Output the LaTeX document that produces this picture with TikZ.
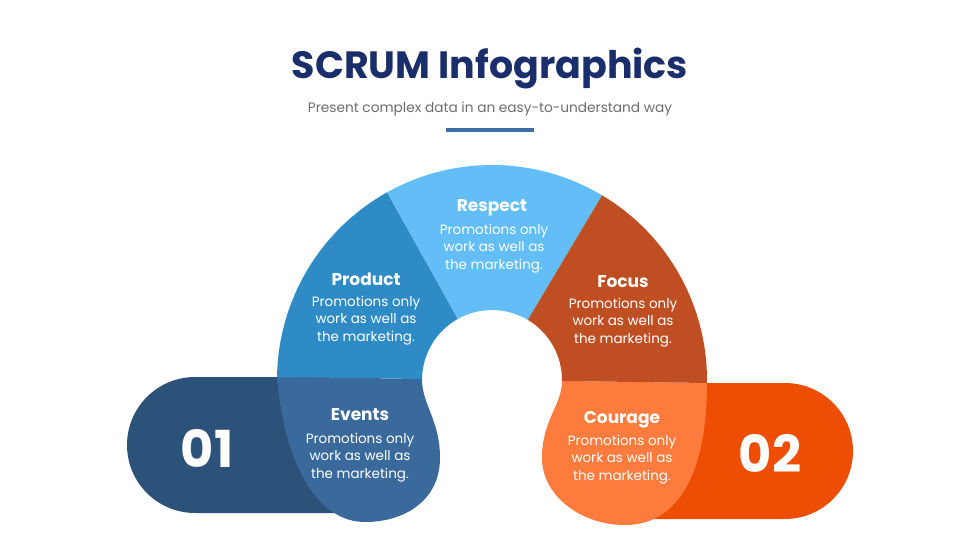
\documentclass[tikz,border=0pt]{standalone}
\usepackage{fontspec}
\setmainfont{Poppins}
\usetikzlibrary{calc}
\definecolor{titlec}{HTML}{1A2E6C}
\definecolor{subc}{HTML}{6D6D6D}
\definecolor{barc}{HTML}{3D6EA5}
\definecolor{pillA}{HTML}{2C5279}
\definecolor{eventsc}{HTML}{3A6A9C}
\definecolor{productc}{HTML}{2F8BC5}
\definecolor{respectc}{HTML}{63BEF7}
\definecolor{focusc}{HTML}{BF4F22}
\definecolor{couragec}{HTML}{FD7B3D}
\definecolor{pillB}{HTML}{EE4E04}
\begin{document}
\begin{tikzpicture}[x=1pt,y=-1pt,
  headtxt/.style={text=white,font=\bfseries\fontsize{17}{20}\selectfont,inner sep=0pt,text height=0.7em,text depth=0pt},
  bodytxt/.style={text=white,font=\fontsize{13.5}{17.5}\selectfont,align=center,inner sep=0pt},
  numtxt/.style={text=white,font=\bfseries\fontsize{51}{56}\selectfont,inner sep=0pt,anchor=base}]
\path[use as bounding box, fill=white] (0,0) rectangle (980,551);
% title
\node[anchor=base,text=titlec,font=\bfseries\fontsize{38}{42}\selectfont,inner sep=0pt] (title) at (490,78) {SCRUM Infographics};
\node[anchor=base,text=subc,font=\fontsize{13.7}{16}\selectfont,inner sep=0pt] (sub) at (490,112.5) {Present complex data in an easy-to-understand way};
\coordinate (barL) at (446,130);
\coordinate (barR) at (534,130);
\draw[barc,line width=4pt] (barL) -- (barR);
% geometry
\coordinate (C) at (492,380);
\coordinate (PL) at ($(C)+(180.8:215)$);
\coordinate (PI) at ($(C)+(180.8:70)$);
\coordinate (FO) at ($(C)+(360.8:215)$);
\coordinate (FI) at ($(C)+(360.8:70)$);
% pills
\fill[pillA] (380,377) -- (195,377) arc[start angle=270,end angle=90,radius=68] -- (380,513) -- cycle;
\fill[pillB] (610,383) -- (785,383) arc[start angle=270,end angle=450,radius=68] -- (610,519) -- cycle;
% blobs
\fill[eventsc] (PL) -- (PI) .. controls (422,405) and (440,420) .. (440,458) .. controls (440,500) and (405,522) .. (365,522) .. controls (320,522) and (285,470) .. (PL) -- cycle;
\fill[couragec] (FI) -- (FO) .. controls (707,470) and (680,525) .. (625,525) .. controls (580,525) and (542,495) .. (542,458) .. controls (542,420) and (562,405) .. (FI) -- cycle;
% arch sectors
\fill[productc] (PI) -- (PL) arc[start angle=180.8,end angle=240.8,radius=215] -- ($(C)+(240.8:70)$) arc[start angle=240.8,end angle=180.8,radius=70] -- cycle;
\fill[respectc] ($(C)+(240.8:70)$) -- ($(C)+(240.8:215)$) arc[start angle=240.8,end angle=300.8,radius=215] -- ($(C)+(300.8:70)$) arc[start angle=300.8,end angle=240.8,radius=70] -- cycle;
\fill[focusc] ($(C)+(300.8:70)$) -- ($(C)+(300.8:215)$) arc[start angle=300.8,end angle=360.8,radius=215] -- (FI) arc[start angle=360.8,end angle=300.8,radius=70] -- cycle;
% numbers
\node[numtxt] (n1) at (207,467) {01};
\node[numtxt] (n2) at (770,472) {02};
% texts
\node[headtxt] (h3) at (492,207.5) {Respect};
\node[bodytxt] (b3) at (494,248.5) {Promotions only\\work as well as\\the marketing.};
\node[headtxt] (h2) at (366,281.5) {Product};
\node[bodytxt] (b2) at (366,320.5) {Promotions only\\work as well as\\the marketing.};
\node[headtxt] (h4) at (623,283.5) {Focus};
\node[bodytxt] (b4) at (623,322.5) {Promotions only\\work as well as\\the marketing.};
\node[headtxt] (h1) at (360,416.5) {Events};
\node[bodytxt] (b1) at (360,457.5) {Promotions only\\work as well as\\the marketing.};
\node[headtxt] (h5) at (622,419.5) {Courage};
\node[bodytxt] (b5) at (622,459.5) {Promotions only\\work as well as\\the marketing.};
\end{tikzpicture}
\end{document}
